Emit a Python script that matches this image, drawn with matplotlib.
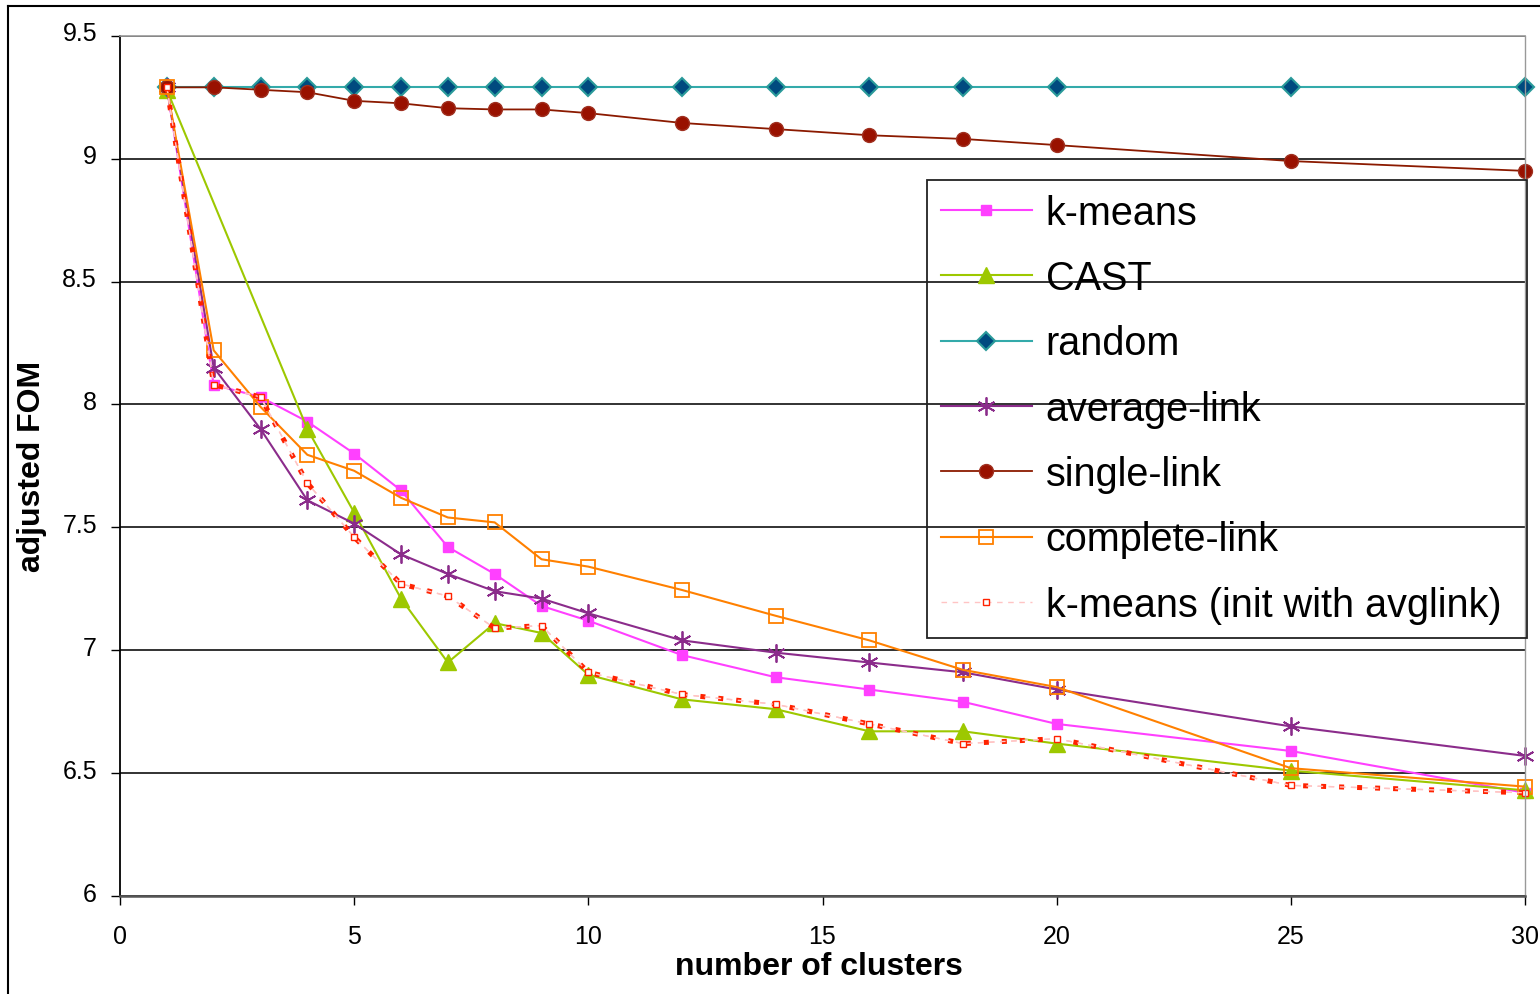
"""
Figura de mérito ajustada (FOM) em função do número de clusters
para os diferentes algoritmos de clusterização.
"""

import matplotlib.pyplot as plt
from matplotlib.lines import Line2D
from matplotlib.transforms import ScaledTranslation

# Números de clusters avaliados
NUM_CLUSTERS = [1, 2, 3, 4, 5, 6, 7, 8, 9, 10, 12, 14, 16, 18, 20, 25, 30]
NUM_CLUSTERS_CAST = [1, 4, 5, 6, 7, 8, 9, 10, 12, 14, 16, 18, 20, 25, 30]

# FOM ajustado por algoritmo
FOM_KMEANS = [9.29, 8.08, 8.03, 7.93, 7.80, 7.65, 7.42, 7.31, 7.18, 7.12,
              6.98, 6.89, 6.84, 6.79, 6.70, 6.59, 6.42]
FOM_CAST = [9.28, 7.90, 7.56, 7.21, 6.95, 7.11, 7.07, 6.90,
            6.80, 6.76, 6.67, 6.67, 6.62, 6.51, 6.43]
FOM_RANDOM = [9.29, 9.29, 9.29, 9.29, 9.29, 9.29, 9.29, 9.29, 9.29, 9.29,
              9.29, 9.29, 9.29, 9.29, 9.29, 9.29, 9.29]
FOM_AVERAGE_LINK = [9.29, 8.15, 7.90, 7.61, 7.515, 7.39, 7.31, 7.24, 7.21, 7.15,
                    7.04, 6.99, 6.95, 6.91, 6.84, 6.69, 6.57]
FOM_SINGLE_LINK = [9.29, 9.29, 9.28, 9.27, 9.235, 9.225, 9.205, 9.20, 9.20, 9.185,
                   9.145, 9.12, 9.095, 9.08, 9.055, 8.99, 8.95]
FOM_COMPLETE_LINK = [9.29, 8.22, 7.99, 7.795, 7.73, 7.62, 7.54, 7.52, 7.37, 7.34,
                     7.245, 7.14, 7.04, 6.92, 6.85, 6.52, 6.445]
FOM_KMEANS_INIT = [9.29, 8.08, 8.03, 7.68, 7.46, 7.27, 7.22, 7.09, 7.10, 6.91,
                   6.82, 6.78, 6.70, 6.62, 6.64, 6.45, 6.42]

Y_TICKS = [6, 6.5, 7, 7.5, 8, 8.5, 9, 9.5]
Y_TICK_LABELS = ['6', '6.5', '7', '7.5', '8', '8.5', '9', '9.5']
X_TICKS = [0, 5, 10, 15, 20, 25, 30]

if __name__ == '__main__':

    plt.rcParams['font.family'] = ['Liberation Sans', 'DejaVu Sans']

    LARGURA, ALTURA = 1540, 995
    fig = plt.figure(figsize=(LARGURA / 100, ALTURA / 100), dpi=100)
    ax = fig.add_axes([120 / LARGURA, (ALTURA - 897) / ALTURA,
                       1405 / LARGURA, (897 - 36.7) / ALTURA])

    # Séries (ordem de desenho igual à da legenda)
    ax.plot(NUM_CLUSTERS, FOM_KMEANS, color='#ff40ff', lw=1.5, marker='s', ms=7,
            mfc='#ff40ff', mec='#ff40ff', label='k-means', clip_on=False)
    ax.plot(NUM_CLUSTERS_CAST, FOM_CAST, color='#9dc800', lw=1.5, marker='^', ms=11,
            mfc='#9dc800', mec='#9dc800', label='CAST', clip_on=False)
    ax.plot(NUM_CLUSTERS, FOM_RANDOM, color='#33aaaa', lw=1.5, marker='D', ms=9,
            mfc='#004a7f', mec='#2a9a9a', mew=1.5, label='random', clip_on=False)
    ax.plot(NUM_CLUSTERS, FOM_AVERAGE_LINK, color='#8b2c8b', lw=1.5, marker=(6, 2, 0),
            ms=13, mec='#8b2c8b', mew=1.3, label='average-link', clip_on=False)
    ax.plot(NUM_CLUSTERS, FOM_SINGLE_LINK, color='#8b1a00', lw=1.3, marker='o', ms=10,
            mfc='#991100', mec='#a03020', label='single-link', clip_on=False)
    ax.plot(NUM_CLUSTERS, FOM_COMPLETE_LINK, color='#ff8000', lw=1.5, marker='s', ms=10,
            mfc='none', mec='#ff8000', mew=1.3, label='complete-link', clip_on=False)
    # k-means inicializado com average-link: pontilhado vermelho + tracejado claro
    ax.plot(NUM_CLUSTERS, FOM_KMEANS_INIT, color='#ffc4c4', lw=1, ls=(0, (4, 4)),
            clip_on=False)
    ax.plot(NUM_CLUSTERS, FOM_KMEANS_INIT, color='#ff2200', lw=3.6, ls=(0, (1, 2.6)),
            clip_on=False)
    ax.plot(NUM_CLUSTERS, FOM_KMEANS_INIT, color='#ffc4c4', lw=1, ls=(0, (4, 4)),
            marker='s', ms=5, mfc='white', mec='#ff2200', mew=1,
            label='k-means (init with avglink)', clip_on=False)

    # Eixos e grade
    ax.set_xlim(0, 30)
    ax.set_ylim(6, 9.5)
    ax.set_xticks(X_TICKS)
    ax.set_yticks(Y_TICKS)
    ax.set_yticklabels(Y_TICK_LABELS)
    ax.yaxis.grid(True, color='#222222', lw=1.3)
    ax.set_axisbelow(True)
    ax.tick_params(axis='y', direction='out', length=6.5, width=1, pad=10, labelsize=18)
    ax.tick_params(axis='x', direction='out', length=6.5, width=1, pad=14, labelsize=18)
    # rótulos do eixo y um pouco acima da linha
    for rotulo in ax.get_yticklabels():
        rotulo.set_transform(rotulo.get_transform() +
                             ScaledTranslation(0, 5 / 100, fig.dpi_scale_trans))
    ax.spines['left'].set_color('black')
    ax.spines['left'].set_linewidth(1.3)
    ax.spines['bottom'].set_color('#555555')
    ax.spines['bottom'].set_linewidth(1.8)
    ax.spines['top'].set_color('#999999')
    ax.spines['top'].set_linewidth(1.2)
    ax.spines['right'].set_color('#999999')
    ax.spines['right'].set_linewidth(1.0)

    # Rótulos dos eixos
    fig.text(32 / LARGURA, 1 - 466 / ALTURA, 'adjusted FOM', rotation=90,
             ha='center', va='center', fontsize=23, fontweight='bold')
    fig.text(819 / LARGURA, 1 - 967 / ALTURA, 'number of clusters',
             ha='center', va='center', fontsize=23, fontweight='bold')

    # Legenda sem preenchimento
    leg = ax.legend(loc='upper left',
                    bbox_to_anchor=(927 / LARGURA, 1 - 181 / ALTURA, 600 / LARGURA, 0),
                    bbox_transform=fig.transFigure, mode='expand', borderaxespad=0,
                    fontsize=28.5, fancybox=False, edgecolor='#222222', facecolor='none',
                    framealpha=1, handlelength=2.3, handletextpad=0.35, borderpad=0.35,
                    labelspacing=0.69, numpoints=1)
    leg.get_frame().set_linewidth(1.3)

    # Moldura externa
    fig.add_artist(Line2D([8 / LARGURA, 8 / LARGURA], [0, 1 - 7 / ALTURA],
                          transform=fig.transFigure, color='black', lw=1.5))
    fig.add_artist(Line2D([8 / LARGURA, 1], [1 - 7 / ALTURA, 1 - 7 / ALTURA],
                          transform=fig.transFigure, color='black', lw=1.5))

    fig.savefig('out.png', dpi=100)
